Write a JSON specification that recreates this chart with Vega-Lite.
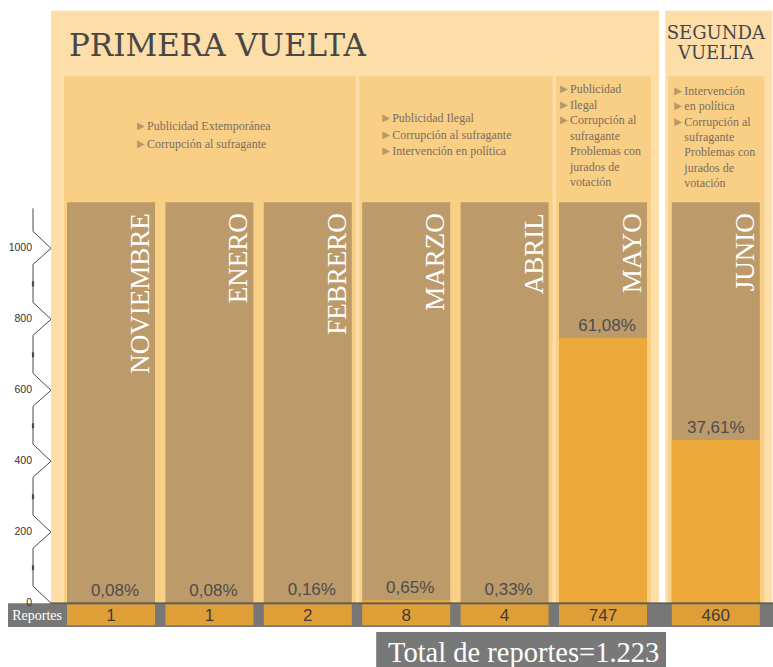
{
  "$schema": "https://vega.github.io/schema/vega-lite/v6.json",
  "padding": {"left": 8, "top": 0, "right": 0, "bottom": 0},
  "bounds": "flush",
  "spacing": 0,
  "background": "#ffffff",
  "config": {"view": {"stroke": null}},
  "datasets": {
    "meses": [
      {"mes": "NOVIEMBRE", "vuelta": "Primera", "reportes": 1, "porcentaje": "0,08%"},
      {"mes": "ENERO", "vuelta": "Primera", "reportes": 1, "porcentaje": "0,08%"},
      {"mes": "FEBRERO", "vuelta": "Primera", "reportes": 2, "porcentaje": "0,16%"},
      {"mes": "MARZO", "vuelta": "Primera", "reportes": 8, "porcentaje": "0,65%"},
      {"mes": "ABRIL", "vuelta": "Primera", "reportes": 4, "porcentaje": "0,33%"},
      {"mes": "MAYO", "vuelta": "Primera", "reportes": 747, "porcentaje": "61,08%"},
      {"mes": "JUNIO", "vuelta": "Segunda", "reportes": 460, "porcentaje": "37,61%"}
    ],
    "grupos": [
      {"grupo": 1, "vuelta": "Primera", "desde": "NOVIEMBRE", "hasta": "FEBRERO", "lineas": "Publicidad Extemporánea\nCorrupción al sufragante", "vinetas": "▶\n▶"},
      {"grupo": 2, "vuelta": "Primera", "desde": "MARZO", "hasta": "ABRIL", "lineas": "Publicidad Ilegal\nCorrupción al sufragante\nIntervención en política", "vinetas": "▶\n▶\n▶"},
      {"grupo": 3, "vuelta": "Primera", "desde": "MAYO", "hasta": "MAYO", "lineas": "Publicidad\nIlegal\nCorrupción al\nsufragante\nProblemas con\njurados de\nvotación", "vinetas": "▶\n\n▶\n\n▶\n\n"},
      {"grupo": 4, "vuelta": "Segunda", "desde": "JUNIO", "hasta": "JUNIO", "lineas": "Intervención\nen política\nCorrupción al\nsufragante\nProblemas con\njurados de\nvotación", "vinetas": "▶\n\n▶\n\n▶\n\n"}
    ],
    "marcas": [{"valor": 0}, {"valor": 200}, {"valor": 400}, {"valor": 600}, {"valor": 800}, {"valor": 1000}]
  },
  "hconcat": [
    {
      "width": 43,
      "height": 667,
      "layer": [
        {
          "data": {"values": [{"fila": "Reportes"}]},
          "mark": {"type": "rect", "fill": "#777777"},
          "encoding": {
            "y": {"datum": 0, "type": "quantitative", "scale": {"domain": [-180, 1700], "nice": false, "zero": false}, "axis": null},
            "y2": {"datum": -67}
          }
        },
        {
          "data": {"name": "marcas"},
          "mark": {"type": "rule", "stroke": "#4a4a4a", "strokeWidth": 1, "yOffset": -17},
          "encoding": {
            "x": {"datum": 0, "type": "quantitative", "scale": {"domain": [0, 1], "range": [25, 43]}, "axis": null},
            "x2": {"datum": 1},
            "y": {"field": "valor", "type": "quantitative", "axis": null},
            "y2": {"field": "valor"}
          }
        },
        {
          "data": {"name": "marcas"},
          "transform": [{"filter": "datum.valor > 0"}],
          "mark": {"type": "rule", "stroke": "#4a4a4a", "strokeWidth": 1, "y2Offset": 16},
          "encoding": {
            "x": {"datum": 1, "type": "quantitative", "axis": null},
            "x2": {"datum": 0},
            "y": {"field": "valor", "type": "quantitative", "axis": null},
            "y2": {"field": "valor"}
          }
        },
        {
          "data": {"name": "marcas"},
          "transform": [{"filter": "datum.valor > 0"}],
          "mark": {"type": "rule", "stroke": "#4a4a4a", "strokeWidth": 1, "yOffset": 16, "y2Offset": 54},
          "encoding": {
            "x": {"datum": 0, "type": "quantitative", "axis": null},
            "y": {"field": "valor", "type": "quantitative", "axis": null},
            "y2": {"field": "valor"}
          }
        },
        {
          "data": {"name": "marcas"},
          "transform": [{"filter": "datum.valor > 0"}],
          "mark": {"type": "rule", "stroke": "#4a4a4a", "strokeWidth": 2.2, "yOffset": 33, "y2Offset": 38},
          "encoding": {
            "x": {"datum": 0, "type": "quantitative", "axis": null},
            "y": {"field": "valor", "type": "quantitative", "axis": null},
            "y2": {"field": "valor"}
          }
        },
        {
          "data": {"name": "marcas"},
          "transform": [{"filter": "datum.valor == 1000"}],
          "mark": {"type": "rule", "stroke": "#4a4a4a", "strokeWidth": 1, "yOffset": -17, "y2Offset": -40},
          "encoding": {
            "x": {"datum": 0, "type": "quantitative", "axis": null},
            "y": {"field": "valor", "type": "quantitative", "axis": null},
            "y2": {"field": "valor"}
          }
        },
        {
          "data": {"name": "marcas"},
          "mark": {"type": "text", "align": "right", "baseline": "middle", "dx": -1, "font": "Liberation Sans", "fontSize": 10.5, "fill": "#333333"},
          "encoding": {
            "x": {"datum": 0, "type": "quantitative", "axis": null},
            "y": {"field": "valor", "type": "quantitative", "axis": null},
            "text": {"field": "valor", "type": "quantitative"}
          }
        }
      ]
    },
    {
      "width": 612,
      "height": 667,
      "layer": [
        {
          "data": {"values": [{"titulo": "PRIMERA VUELTA"}]},
          "mark": {"type": "rect", "fill": "#FDDEA8", "xOffset": -16, "x2Offset": 12},
          "encoding": {
            "x": {"datum": "NOVIEMBRE", "type": "nominal", "bandPosition": 0, "scale": {"domain": ["NOVIEMBRE", "ENERO", "FEBRERO", "MARZO", "ABRIL", "MAYO"], "paddingInner": 0.1057, "paddingOuter": 0.1626}, "axis": null},
            "x2": {"datum": "MAYO", "bandPosition": 1},
            "y": {"datum": 1670, "type": "quantitative", "scale": {"domain": [-180, 1700], "nice": false, "zero": false}, "axis": null},
            "y2": {"datum": 0}
          }
        },
        {
          "data": {"name": "grupos"},
          "transform": [{"filter": "datum.vuelta == 'Primera'"}],
          "mark": {"type": "rect", "fill": "#F9CF86", "xOffset": -3, "x2Offset": 4},
          "encoding": {
            "x": {"field": "desde", "type": "nominal", "bandPosition": 0, "axis": null},
            "x2": {"field": "hasta", "bandPosition": 1},
            "y": {"datum": 1485, "type": "quantitative", "axis": null},
            "y2": {"datum": 0}
          }
        },
        {
          "data": {"values": [{"fila": "Reportes"}]},
          "mark": {"type": "rect", "fill": "#777777"},
          "encoding": {
            "y": {"datum": 0, "type": "quantitative", "axis": null},
            "y2": {"datum": -67}
          }
        },
        {
          "data": {"name": "meses"},
          "transform": [{"filter": "datum.vuelta == 'Primera'"}],
          "mark": {"type": "rect", "fill": "#BC9A6A"},
          "encoding": {
            "x": {"field": "mes", "type": "nominal", "axis": null},
            "y": {"datum": 1130, "type": "quantitative", "axis": null},
            "y2": {"datum": 0}
          }
        },
        {
          "data": {"name": "meses"},
          "transform": [{"filter": "datum.vuelta == 'Primera'"}],
          "mark": {"type": "rect", "fill": "#EDA93A"},
          "encoding": {
            "x": {"field": "mes", "type": "nominal", "axis": null},
            "y": {"field": "reportes", "type": "quantitative", "axis": null},
            "y2": {"datum": 0}
          }
        },
        {
          "data": {"name": "meses"},
          "transform": [{"filter": "datum.vuelta == 'Primera'"}],
          "mark": {"type": "rect", "fill": "#E09F36"},
          "encoding": {
            "x": {"field": "mes", "type": "nominal", "axis": null},
            "y": {"datum": -4, "type": "quantitative", "axis": null},
            "y2": {"datum": -62}
          }
        },
        {
          "data": {"values": [{"fila": "Reportes"}]},
          "mark": {"type": "rule", "stroke": "#444444", "strokeWidth": 1.2},
          "encoding": {
            "y": {"datum": 0, "type": "quantitative", "axis": null}
          }
        },
        {
          "data": {"values": [{"fila": "Reportes"}]},
          "mark": {"type": "text", "align": "right", "baseline": "middle", "dx": -5, "font": "Liberation Serif", "fontSize": 14, "fill": "#ffffff"},
          "encoding": {
            "x": {"datum": "NOVIEMBRE", "type": "nominal", "bandPosition": 0, "axis": null},
            "y": {"datum": -35, "type": "quantitative", "axis": null},
            "text": {"field": "fila"}
          }
        },
        {
          "data": {"name": "meses"},
          "transform": [{"filter": "datum.vuelta == 'Primera'"}],
          "mark": {"type": "text", "angle": 270, "align": "right", "baseline": "alphabetic", "dx": -11, "dy": -6, "font": "Liberation Serif", "fontSize": 27, "fill": "#ffffff"},
          "encoding": {
            "x": {"field": "mes", "type": "nominal", "bandPosition": 1, "axis": null},
            "y": {"datum": 1130, "type": "quantitative", "axis": null},
            "text": {"field": "mes"}
          }
        },
        {
          "data": {"name": "meses"},
          "transform": [{"filter": "datum.vuelta == 'Primera'"}],
          "mark": {"type": "text", "align": "center", "baseline": "bottom", "dx": 4, "dy": -3, "font": "Liberation Sans", "fontSize": 17, "fill": "#4d4d4d"},
          "encoding": {
            "x": {"field": "mes", "type": "nominal", "axis": null},
            "y": {"field": "reportes", "type": "quantitative", "axis": null},
            "text": {"field": "porcentaje"}
          }
        },
        {
          "data": {"name": "meses"},
          "transform": [{"filter": "datum.vuelta == 'Primera'"}],
          "mark": {"type": "text", "align": "center", "baseline": "middle", "font": "Liberation Sans", "fontSize": 17, "fill": "#3d3d3d"},
          "encoding": {
            "x": {"field": "mes", "type": "nominal", "axis": null},
            "y": {"datum": -35, "type": "quantitative", "axis": null},
            "text": {"field": "reportes", "type": "quantitative"}
          }
        },
        {
          "data": {"values": [{"titulo": "PRIMERA VUELTA"}]},
          "mark": {"type": "text", "align": "left", "baseline": "alphabetic", "dx": 2, "font": "DejaVu Serif", "fontSize": 31, "fill": "#474747"},
          "encoding": {
            "x": {"datum": "NOVIEMBRE", "type": "nominal", "bandPosition": 0, "axis": null},
            "y": {"datum": 1542, "type": "quantitative", "axis": null},
            "text": {"field": "titulo"}
          }
        },
        {
          "data": {"name": "grupos"},
          "transform": [{"filter": "datum.grupo == 1"}],
          "mark": {"type": "text", "align": "left", "baseline": "middle", "lineBreak": "\n", "lineHeight": 18, "dx": 70, "font": "DejaVu Sans", "fontSize": 10, "fill": "#B8976A"},
          "encoding": {
            "x": {"field": "desde", "type": "nominal", "bandPosition": 0, "axis": null},
            "y": {"datum": 1345, "type": "quantitative", "axis": null},
            "text": {"field": "vinetas"}
          }
        },
        {
          "data": {"name": "grupos"},
          "transform": [{"filter": "datum.grupo == 1"}],
          "mark": {"type": "text", "align": "left", "baseline": "middle", "lineBreak": "\n", "lineHeight": 18, "dx": 80, "font": "Liberation Serif", "fontSize": 12, "fill": "#7B6D5D"},
          "encoding": {
            "x": {"field": "desde", "type": "nominal", "bandPosition": 0, "axis": null},
            "y": {"datum": 1345, "type": "quantitative", "axis": null},
            "text": {"field": "lineas"}
          }
        },
        {
          "data": {"name": "grupos"},
          "transform": [{"filter": "datum.grupo == 2"}],
          "mark": {"type": "text", "align": "left", "baseline": "middle", "lineBreak": "\n", "lineHeight": 16.5, "dx": 20, "font": "DejaVu Sans", "fontSize": 10, "fill": "#B8976A"},
          "encoding": {
            "x": {"field": "desde", "type": "nominal", "bandPosition": 0, "axis": null},
            "y": {"datum": 1367, "type": "quantitative", "axis": null},
            "text": {"field": "vinetas"}
          }
        },
        {
          "data": {"name": "grupos"},
          "transform": [{"filter": "datum.grupo == 2"}],
          "mark": {"type": "text", "align": "left", "baseline": "middle", "lineBreak": "\n", "lineHeight": 16.5, "dx": 30, "font": "Liberation Serif", "fontSize": 12, "fill": "#7B6D5D"},
          "encoding": {
            "x": {"field": "desde", "type": "nominal", "bandPosition": 0, "axis": null},
            "y": {"datum": 1367, "type": "quantitative", "axis": null},
            "text": {"field": "lineas"}
          }
        },
        {
          "data": {"name": "grupos"},
          "transform": [{"filter": "datum.grupo == 3"}],
          "mark": {"type": "text", "align": "left", "baseline": "middle", "lineBreak": "\n", "lineHeight": 15.5, "dx": 1, "font": "DejaVu Sans", "fontSize": 10, "fill": "#B8976A"},
          "encoding": {
            "x": {"field": "desde", "type": "nominal", "bandPosition": 0, "axis": null},
            "y": {"datum": 1449, "type": "quantitative", "axis": null},
            "text": {"field": "vinetas"}
          }
        },
        {
          "data": {"name": "grupos"},
          "transform": [{"filter": "datum.grupo == 3"}],
          "mark": {"type": "text", "align": "left", "baseline": "middle", "lineBreak": "\n", "lineHeight": 15.5, "dx": 11, "font": "Liberation Serif", "fontSize": 12, "fill": "#7B6D5D"},
          "encoding": {
            "x": {"field": "desde", "type": "nominal", "bandPosition": 0, "axis": null},
            "y": {"datum": 1449, "type": "quantitative", "axis": null},
            "text": {"field": "lineas"}
          }
        },
        {
          "data": {"values": [{"total": "Total de reportes=1.223"}]},
          "mark": {"type": "rect", "fill": "#787878", "xOffset": 14, "x2Offset": 19},
          "encoding": {
            "x": {"datum": "MARZO", "type": "nominal", "bandPosition": 0, "axis": null},
            "x2": {"datum": "MAYO", "bandPosition": 1},
            "y": {"datum": -81, "type": "quantitative", "axis": null},
            "y2": {"datum": -180}
          }
        },
        {
          "data": {"values": [{"total": "Total de reportes=1.223"}]},
          "mark": {"type": "text", "align": "center", "baseline": "alphabetic", "dx": 19, "font": "Liberation Serif", "fontSize": 28.5, "fill": "#ffffff"},
          "encoding": {
            "x": {"datum": "ABRIL", "type": "nominal", "axis": null},
            "y": {"datum": -166, "type": "quantitative", "axis": null},
            "text": {"field": "total"}
          }
        }
      ]
    },
    {
      "width": 110,
      "height": 667,
      "layer": [
        {
          "data": {"values": [{"titulo": "SEGUNDA\nVUELTA"}]},
          "mark": {"type": "rect", "fill": "#FDDEA8", "xOffset": -6.5, "x2Offset": 12.6},
          "encoding": {
            "x": {"datum": "JUNIO", "type": "nominal", "bandPosition": 0, "scale": {"domain": ["JUNIO"], "paddingInner": 0, "paddingOuter": 0.125, "align": 0.4}, "axis": null},
            "x2": {"datum": "JUNIO", "bandPosition": 1},
            "y": {"datum": 1670, "type": "quantitative", "scale": {"domain": [-180, 1700], "nice": false, "zero": false}, "axis": null},
            "y2": {"datum": 0}
          }
        },
        {
          "data": {"name": "grupos"},
          "transform": [{"filter": "datum.vuelta == 'Segunda'"}],
          "mark": {"type": "rect", "fill": "#F9CF86", "xOffset": -3.5, "x2Offset": 4.5},
          "encoding": {
            "x": {"field": "desde", "type": "nominal", "bandPosition": 0, "axis": null},
            "x2": {"field": "hasta", "bandPosition": 1},
            "y": {"datum": 1485, "type": "quantitative", "axis": null},
            "y2": {"datum": 0}
          }
        },
        {
          "data": {"values": [{"fila": "Reportes"}]},
          "mark": {"type": "rect", "fill": "#777777"},
          "encoding": {
            "y": {"datum": 0, "type": "quantitative", "axis": null},
            "y2": {"datum": -67}
          }
        },
        {
          "data": {"name": "meses"},
          "transform": [{"filter": "datum.vuelta == 'Segunda'"}],
          "mark": {"type": "rect", "fill": "#BC9A6A"},
          "encoding": {
            "x": {"field": "mes", "type": "nominal", "axis": null},
            "y": {"datum": 1130, "type": "quantitative", "axis": null},
            "y2": {"datum": 0}
          }
        },
        {
          "data": {"name": "meses"},
          "transform": [{"filter": "datum.vuelta == 'Segunda'"}],
          "mark": {"type": "rect", "fill": "#EDA93A"},
          "encoding": {
            "x": {"field": "mes", "type": "nominal", "axis": null},
            "y": {"field": "reportes", "type": "quantitative", "axis": null},
            "y2": {"datum": 0}
          }
        },
        {
          "data": {"name": "meses"},
          "transform": [{"filter": "datum.vuelta == 'Segunda'"}],
          "mark": {"type": "rect", "fill": "#E09F36"},
          "encoding": {
            "x": {"field": "mes", "type": "nominal", "axis": null},
            "y": {"datum": -4, "type": "quantitative", "axis": null},
            "y2": {"datum": -62}
          }
        },
        {
          "data": {"values": [{"fila": "Reportes"}]},
          "mark": {"type": "rule", "stroke": "#444444", "strokeWidth": 1.2},
          "encoding": {
            "y": {"datum": 0, "type": "quantitative", "axis": null}
          }
        },
        {
          "data": {"name": "meses"},
          "transform": [{"filter": "datum.vuelta == 'Segunda'"}],
          "mark": {"type": "text", "angle": 270, "align": "right", "baseline": "alphabetic", "dx": -11, "dy": -6, "font": "Liberation Serif", "fontSize": 27, "fill": "#ffffff"},
          "encoding": {
            "x": {"field": "mes", "type": "nominal", "bandPosition": 1, "axis": null},
            "y": {"datum": 1130, "type": "quantitative", "axis": null},
            "text": {"field": "mes"}
          }
        },
        {
          "data": {"name": "meses"},
          "transform": [{"filter": "datum.vuelta == 'Segunda'"}],
          "mark": {"type": "text", "align": "center", "baseline": "bottom", "dx": 0, "dy": -3, "font": "Liberation Sans", "fontSize": 17, "fill": "#4d4d4d"},
          "encoding": {
            "x": {"field": "mes", "type": "nominal", "axis": null},
            "y": {"field": "reportes", "type": "quantitative", "axis": null},
            "text": {"field": "porcentaje"}
          }
        },
        {
          "data": {"name": "meses"},
          "transform": [{"filter": "datum.vuelta == 'Segunda'"}],
          "mark": {"type": "text", "align": "center", "baseline": "middle", "font": "Liberation Sans", "fontSize": 17, "fill": "#3d3d3d"},
          "encoding": {
            "x": {"field": "mes", "type": "nominal", "axis": null},
            "y": {"datum": -35, "type": "quantitative", "axis": null},
            "text": {"field": "reportes", "type": "quantitative"}
          }
        },
        {
          "data": {"values": [{"titulo": "SEGUNDA\nVUELTA"}]},
          "mark": {"type": "text", "align": "center", "baseline": "middle", "lineBreak": "\n", "lineHeight": 20, "font": "DejaVu Serif", "fontSize": 18, "fill": "#474747"},
          "encoding": {
            "x": {"datum": "JUNIO", "type": "nominal", "axis": null},
            "y": {"datum": 1604, "type": "quantitative", "axis": null},
            "text": {"field": "titulo"}
          }
        },
        {
          "data": {"name": "grupos"},
          "transform": [{"filter": "datum.grupo == 4"}],
          "mark": {"type": "text", "align": "left", "baseline": "middle", "lineBreak": "\n", "lineHeight": 15.3, "dx": 2.5, "font": "DejaVu Sans", "fontSize": 10, "fill": "#B8976A"},
          "encoding": {
            "x": {"field": "desde", "type": "nominal", "bandPosition": 0, "axis": null},
            "y": {"datum": 1443, "type": "quantitative", "axis": null},
            "text": {"field": "vinetas"}
          }
        },
        {
          "data": {"name": "grupos"},
          "transform": [{"filter": "datum.grupo == 4"}],
          "mark": {"type": "text", "align": "left", "baseline": "middle", "lineBreak": "\n", "lineHeight": 15.3, "dx": 12.5, "font": "Liberation Serif", "fontSize": 12, "fill": "#7B6D5D"},
          "encoding": {
            "x": {"field": "desde", "type": "nominal", "bandPosition": 0, "axis": null},
            "y": {"datum": 1443, "type": "quantitative", "axis": null},
            "text": {"field": "lineas"}
          }
        }
      ]
    }
  ]
}
